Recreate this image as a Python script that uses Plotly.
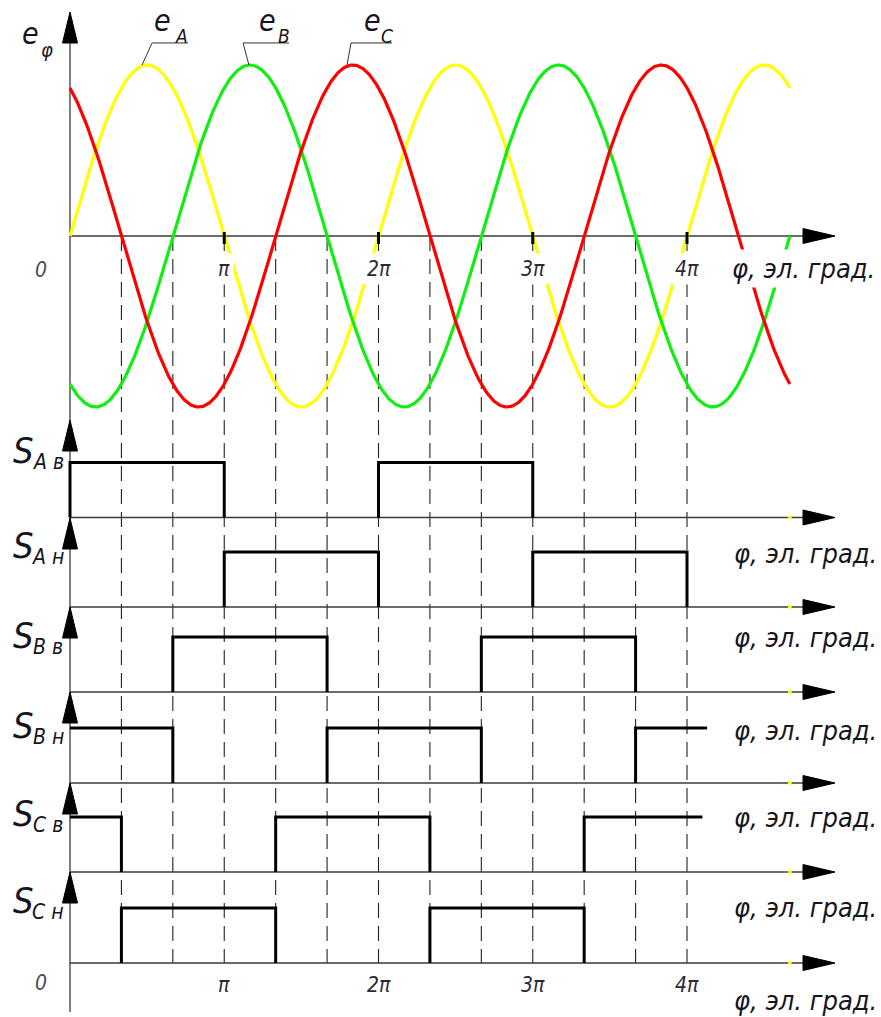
import numpy as np
import plotly.graph_objects as go

W, H = 881, 1017

# ---- phase EMFs (normalised amplitude, phase shifts in degrees) ----
PHASES = ["A", "B", "C"]
PHASE_SHIFT_DEG = [0, -120, 120]
PHASE_COLORS = ["#ffff00", "#11ee11", "#ff0000"]
EMF_AMPLITUDE = 1.0
PHI_END_PI = 14 / 3          # curves drawn from 0 to 14π/3

# ---- switch conduction intervals, in units of π ----
SWITCHES = ["A в", "A н", "B в", "B н", "C в", "C н"]
INTERVALS = {
    "A в": [(0, 1), (2, 3)],
    "A н": [(1, 2), (3, 4)],
    "B в": [(2 / 3, 5 / 3), (8 / 3, 11 / 3)],
    "B н": [(0, 2 / 3), (5 / 3, 8 / 3), (11 / 3, 4.13)],
    "C в": [(0, 1 / 3), (4 / 3, 7 / 3), (10 / 3, 4.10)],
    "C н": [(1 / 3, 4 / 3), (7 / 3, 10 / 3)],
}
OPEN_AT_ZERO = {"B н", "C в"}     # signal already on before φ = 0
OPEN_AT_END = {"B н", "C в"}      # signal still on at the right end

TICK_PI = [1, 2, 3, 4]
TICK_TEXT = ["π", "2π", "3π", "4π"]
GRID_PI = [k / 3 for k in range(1, 13)]

# ---- layout geometry (pixels) ----
X0_PX, PX_PER_PI = 70, 154.25
TOP_ZERO_PX, TOP_UNIT_PX = 236, 171
BASE_PX = [517.5, 607, 692, 783, 872, 963]
PULSE_PX = 55
LABEL_S_PX = [450, 545, 635, 725, 813, 900]
AXIS_TIP_PX = [12, 420, 518, 607, 692, 783, 872]
UNIT_LABEL_PX = [268, 553, 637, 730, 817, 907, 1000]
ARROW_TIP_X_PX = 835

FONT = "Liberation Sans Narrow, DejaVu Sans Condensed, Liberation Sans, sans-serif"
INK = "#15151f"
AXIS_INK = "#3a3a3a"


def px_x(p):
    return p / W


def px_y(p):
    return 1 - p / H


fig = go.Figure()

# ---- axes layout ----
pi = np.pi
layout_axes = {}
layout_axes["xaxis"] = dict(domain=[0, 1], range=[-X0_PX / PX_PER_PI * pi, (W - X0_PX) / PX_PER_PI * pi],
                            visible=False, fixedrange=True, anchor="y")
top_lo, top_hi = 0, 440
layout_axes["yaxis"] = dict(domain=[px_y(top_hi), px_y(top_lo)],
                            range=[(TOP_ZERO_PX - top_hi) / TOP_UNIT_PX, (TOP_ZERO_PX - top_lo) / TOP_UNIT_PX],
                            visible=False, fixedrange=True, anchor="x")
for i, b in enumerate(BASE_PX):
    lo, hi = b - 72, b + 12
    layout_axes[f"yaxis{i + 2}"] = dict(domain=[px_y(hi), px_y(lo)],
                                        range=[(b - hi) / PULSE_PX, (b - lo) / PULSE_PX],
                                        visible=False, fixedrange=True, anchor="x")

# ---- EMF curves ----
phi = np.linspace(0, PHI_END_PI * pi, 700)
for name, shift, color in zip(PHASES, PHASE_SHIFT_DEG, PHASE_COLORS):
    fig.add_trace(go.Scatter(x=phi, y=EMF_AMPLITUDE * np.sin(phi + np.radians(shift)),
                             mode="lines", line=dict(color=color, width=3.2),
                             xaxis="x", yaxis="y", hoverinfo="skip", showlegend=False))

# ---- switching signals ----
for i, sw in enumerate(SWITCHES):
    xs, ys = [], []
    ivs = INTERVALS[sw]
    for j, (a, b) in enumerate(ivs):
        if not (a == 0 and sw in OPEN_AT_ZERO):
            xs.append(a * pi); ys.append(0)
        xs += [a * pi, b * pi]; ys += [1, 1]
        if not (j == len(ivs) - 1 and sw in OPEN_AT_END):
            xs.append(b * pi); ys.append(0)
        xs.append(None); ys.append(None)
    yname = f"y{i + 2}"
    fig.add_trace(go.Scatter(x=xs, y=ys, mode="lines", line=dict(color="#000000", width=3),
                             xaxis="x", yaxis=yname, hoverinfo="skip", showlegend=False))
    # small yellow stub at the end of the EMF range
    fig.add_trace(go.Scatter(x=[PHI_END_PI * pi], y=[0], mode="markers",
                             marker=dict(color="#ffff00", size=4, line=dict(width=0)),
                             xaxis="x", yaxis=yname, hoverinfo="skip", showlegend=False))

shapes = []

# dashed reference lines every π/3
for g in GRID_PI:
    shapes.append(dict(type="line", xref="x", yref="paper", x0=g * pi, x1=g * pi,
                       y0=px_y(TOP_ZERO_PX), y1=px_y(BASE_PX[-1]),
                       line=dict(color="#222222", width=1.1, dash="15px,8px"), layer="below"))

# vertical axis
shapes.append(dict(type="line", xref="x", yref="paper", x0=0, x1=0,
                   y0=px_y(AXIS_TIP_PX[0] + 10), y1=px_y(1012),
                   line=dict(color=AXIS_INK, width=1.3), layer="below"))

# horizontal axes with arrowheads
for base in [TOP_ZERO_PX] + BASE_PX:
    shapes.append(dict(type="line", xref="paper", yref="paper", x0=px_x(X0_PX), x1=px_x(ARROW_TIP_X_PX - 20),
                       y0=px_y(base), y1=px_y(base), line=dict(color=AXIS_INK, width=1.3), layer="below"))
    tx, ty = px_x(ARROW_TIP_X_PX), px_y(base)
    bx = px_x(ARROW_TIP_X_PX - 32)
    hy = 7.5 / H
    shapes.append(dict(type="path", xref="paper", yref="paper",
                       path=f"M {tx},{ty} L {bx},{ty + hy} L {bx},{ty - hy} Z",
                       fillcolor="#000000", line=dict(color="#000000", width=1)))

# vertical arrowheads
for tip in AXIS_TIP_PX:
    cx = px_x(X0_PX)
    hx = 7.5 / W
    ty, by = px_y(tip), px_y(tip + 31)
    shapes.append(dict(type="path", xref="paper", yref="paper",
                       path=f"M {cx},{ty} L {cx + hx},{by} L {cx - hx},{by} Z",
                       fillcolor="#000000", line=dict(color="#000000", width=1)))

# tick marks at multiples of π on the EMF axis
for t in TICK_PI:
    shapes.append(dict(type="line", xref="x", yref="paper", x0=t * pi, x1=t * pi,
                       y0=px_y(TOP_ZERO_PX - 4), y1=px_y(TOP_ZERO_PX + 8),
                       line=dict(color="#000000", width=3)))

# leader lines for the curve labels (φ in units of π, EMF value)
LEADERS = [((0.467, 1.0), (0.532, 1.129), 0.765),
           ((1.160, 1.0), (1.122, 1.129), 1.420),
           ((1.796, 1.0), (1.822, 1.129), 2.088)]
for (p0, v0), (p1, v1), p2 in LEADERS:
    shapes.append(dict(type="path", xref="x", yref="y",
                       path=f"M {p0 * pi},{v0} L {p1 * pi},{v1} L {p2 * pi},{v1}",
                       line=dict(color="#333333", width=1)))

annotations = []


def text(s, xpx, ypx, size, color=INK, xanchor="center", bg=None, xref="paper", x=None):
    a = dict(text=s, xref=xref, yref="paper", x=x if x is not None else px_x(xpx), y=px_y(ypx),
             xanchor=xanchor, yanchor="middle", showarrow=False,
             font=dict(family=FONT, size=size, color=color, style="italic"))
    if bg:
        a["bgcolor"] = bg
        a["borderpad"] = 3
    annotations.append(a)


# EMF axis title and curve labels
text("e", 30, 33, 30)
text("φ", 47, 50, 20)
CURVE_LABEL_X = [(162, 181), (267, 284), (372, 387)]
for name, (ex, sx) in zip(PHASES, CURVE_LABEL_X):
    text("e", ex, 21, 30)
    text(name, sx, 36, 19)

# tick labels
text("0", 41, 270, 21, color="#4a4a5a")
text("0", 41, 983, 21, color="#4a4a5a")
for t, lab in zip(TICK_PI, TICK_TEXT):
    text(lab, 0, 269, 21, color="#2a2a3a", xref="x", x=t * pi, bg="#ffffff")
    text(lab, 0, 985, 21, color="#2a2a3a", xref="x", x=t * pi)

# angle axis captions
for k, ypx in enumerate(UNIT_LABEL_PX):
    text("φ, эл. град.", 879, ypx, 27, xanchor="right", bg="#ffffff" if k == 0 else None)

# switch labels
for sw, ypx in zip(SWITCHES, LABEL_S_PX):
    text("S", 23, ypx, 36)
    text(sw, 48, ypx + 12, 21)

fig.update_layout(
    width=W, height=H, margin=dict(l=0, r=0, t=0, b=0),
    paper_bgcolor="#ffffff", plot_bgcolor="#ffffff",
    shapes=shapes, annotations=annotations, showlegend=False,
    **layout_axes,
)

fig.write_html("out.html")
